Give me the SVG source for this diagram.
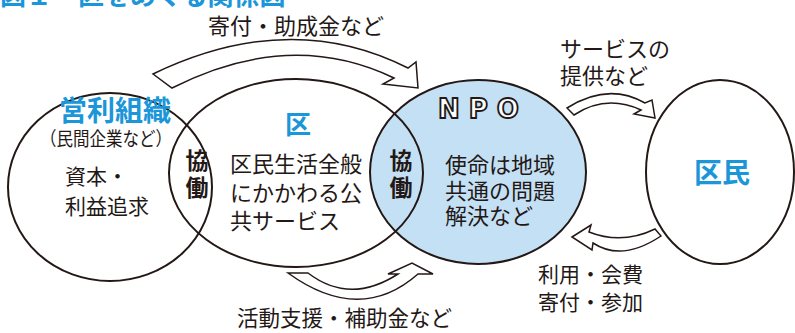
<svg xmlns="http://www.w3.org/2000/svg" width="795" height="333" viewBox="0 0 795 333">
<style>
text{font-family:"Liberation Sans","Noto Sans CJK JP",sans-serif;fill:#231815}
.t{font-size:22px}
.blue{fill:#1a96d9;font-weight:bold}
.kyo{font-size:23px;font-weight:bold;letter-spacing:4px}
.ell{fill:none;stroke:#231815;stroke-width:2}
.arr{fill:#fff;stroke:#231815;stroke-width:1.5;stroke-linejoin:miter}
</style>
<rect width="795" height="333" fill="#fff"/>
<text x="0" y="5" class="blue" style="font-size:26px">図１　区をめぐる関係図</text>

<g id="npo-fill"><ellipse cx="478" cy="172" rx="108" ry="92" fill="#c4e0f4"/></g>

<g id="eiri">
<ellipse class="ell" cx="110" cy="187" rx="102" ry="94"/>
<text x="115" y="121" class="blue" text-anchor="middle" style="font-size:28px">営利組織</text>
<text x="106" y="146" text-anchor="middle" style="font-size:19px" textLength="132" lengthAdjust="spacingAndGlyphs">（民間企業など）</text>
<text style="font-size:21px"><tspan x="65" y="184">資本・</tspan><tspan x="65" y="214">利益追求</tspan></text>
</g>

<g id="ku">
<ellipse class="ell" cx="296" cy="173" rx="127" ry="94"/>
<text x="298" y="134" class="blue" text-anchor="middle" style="font-size:26px">区</text>
<text class="t"><tspan x="230" y="172">区民生活全般</tspan><tspan x="230" y="201">にかかわる公</tspan><tspan x="230" y="229">共サービス</tspan></text>
</g>

<g id="kyodo1">
<text x="195" y="149" class="kyo" writing-mode="tb">協働</text>
</g>

<g id="npo">
<ellipse class="ell" cx="478" cy="172" rx="108" ry="92"/>
<text x="483" y="118" text-anchor="middle" style="font-family:'DejaVu Sans',sans-serif;font-size:26px;font-weight:bold;letter-spacing:9px;fill:#fff;stroke:#231815;stroke-width:1.8">NPO</text>
<text class="t"><tspan x="445" y="173">使命は地域</tspan><tspan x="445" y="199">共通の問題</tspan><tspan x="445" y="224">解決など</tspan></text>
</g>

<g id="kyodo2">
<text x="399" y="149" class="kyo" writing-mode="tb">協働</text>
</g>

<g id="kumin">
<ellipse class="ell" cx="720" cy="172" rx="74" ry="92"/>
<text x="722" y="183" class="blue" text-anchor="middle" style="font-size:28px">区民</text>
</g>

<g id="connectors">
<path class="arr" d="M153,74 Q290,8 408,68 L416,62 L418,88 L383,84 L394,78 Q290,28 172,88 Z"/>
<path class="arr" d="M567,108 Q608,82 645,103 L652,100 L655,118 L634,114 L641,110 Q606,94 574,115 Z"/>
<path class="arr" d="M572,237 L591,225 L589,232 Q622,245 655,229 L661,236 Q622,262 593,243 L592,250 Z"/>
<path class="arr" d="M288,273 L308,273 Q350,305 398,274 L388,274 L412,263 L433,274 L418,274 Q360,325 288,273 Z"/>
<text x="208" y="34" class="t">寄付・助成金など</text>
<text class="t"><tspan x="560" y="57">サービスの</tspan><tspan x="560" y="84">提供など</tspan></text>
<text style="font-size:21px"><tspan x="538" y="282">利用・会費</tspan><tspan x="538" y="310">寄付・参加</tspan></text>
<text x="237" y="326" style="font-size:21.5px">活動支援・補助金など</text>
</g>
</svg>
